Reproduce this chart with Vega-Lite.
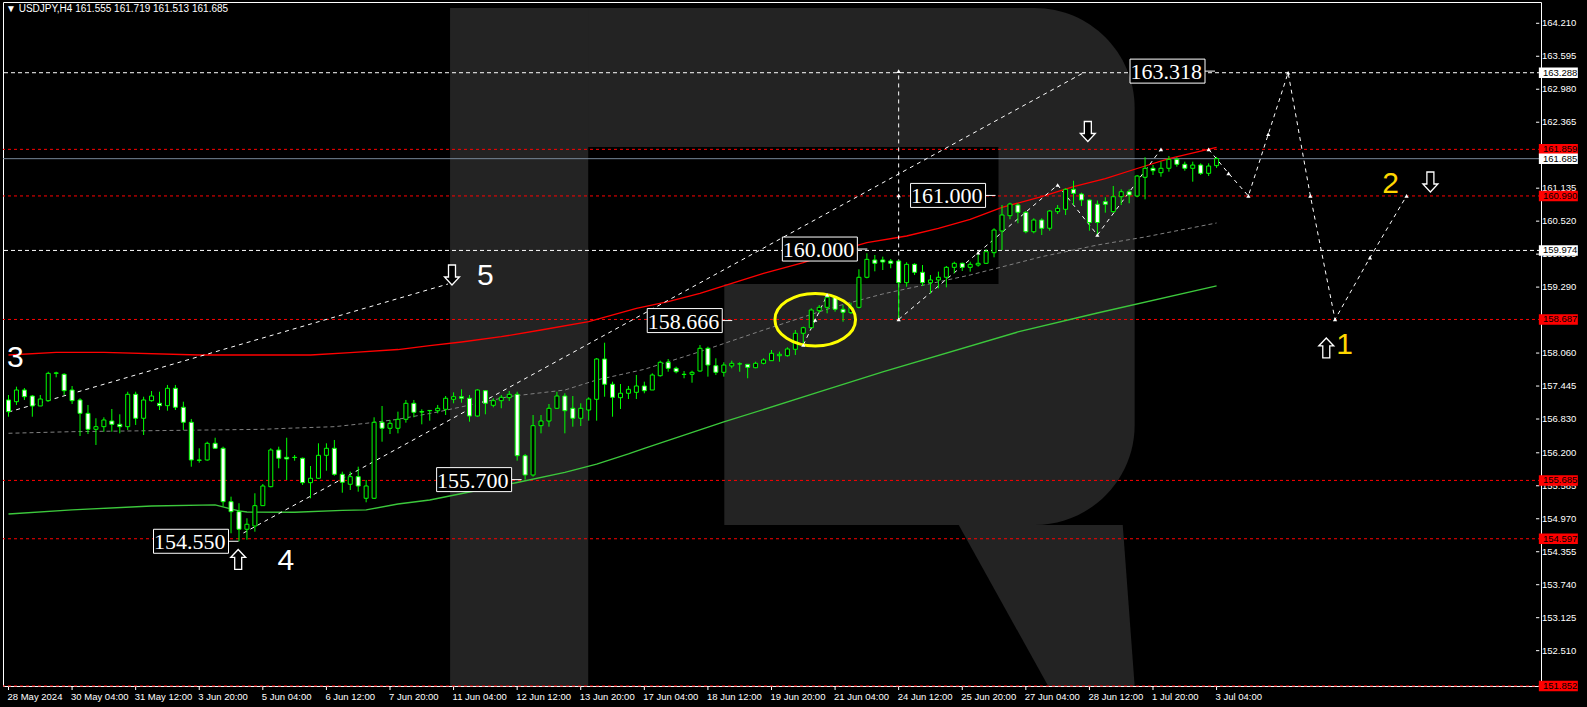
{
  "$schema": "https://vega.github.io/schema/vega-lite/v6.json",
  "width": 1538,
  "height": 684,
  "autosize": {"type": "none"},
  "padding": {"left": 3, "top": 2, "right": 46, "bottom": 21},
  "background": "#000000",
  "title": {"text": "▼ USDJPY,H4  161.555 161.719 161.513 161.685", "anchor": "start", "frame": "group", "orient": "top", "offset": -12, "dx": 3, "color": "#ffffff", "fontSize": 10, "fontWeight": "normal", "font": "Liberation Sans"},
  "config": {
    "view": {"stroke": "#ffffff", "strokeWidth": 1, "fill": "#000000"},
    "font": "Liberation Sans"
  },
  "datasets": {
    "bowl": [{"x1": 55.56, "x2": 141.69, "y1": 164.495, "y2": 154.854}],
    "stem": [{"x1": 55.56, "x2": 72.94, "y1": 164.495, "y2": 151.851}],
    "cut": [{"x1": 72.94, "x2": 124.56, "y1": 161.903, "y2": 159.348}, {"x1": 72.94, "x2": 90.06, "y1": 159.348, "y2": 154.854}],
    "leg": [{"p": 154.854, "xa": 119.56, "xb": 140.19}, {"p": 151.851, "xa": 130.81, "xb": 141.69}],
    "xticks": [
      {"i": 0, "t": "28 May 2024"}, {"i": 8, "t": "30 May 04:00"}, {"i": 16, "t": "31 May 12:00"}, {"i": 24, "t": "3 Jun 20:00"},
      {"i": 32, "t": "5 Jun 04:00"}, {"i": 40, "t": "6 Jun 12:00"}, {"i": 48, "t": "7 Jun 20:00"}, {"i": 56, "t": "11 Jun 04:00"},
      {"i": 64, "t": "12 Jun 12:00"}, {"i": 72, "t": "13 Jun 20:00"}, {"i": 80, "t": "17 Jun 04:00"}, {"i": 88, "t": "18 Jun 12:00"},
      {"i": 96, "t": "19 Jun 20:00"}, {"i": 104, "t": "21 Jun 04:00"}, {"i": 112, "t": "24 Jun 12:00"}, {"i": 120, "t": "25 Jun 20:00"},
      {"i": 128, "t": "27 Jun 04:00"}, {"i": 136, "t": "28 Jun 12:00"}, {"i": 144, "t": "1 Jul 20:00"}, {"i": 152, "t": "3 Jul 04:00"}
    ],
    "yticks": [
      {"p": 164.210}, {"p": 163.595}, {"p": 162.980}, {"p": 162.365}, {"p": 161.135}, {"p": 160.520},
      {"p": 159.905}, {"p": 159.290}, {"p": 158.060}, {"p": 157.445}, {"p": 156.830}, {"p": 156.200},
      {"p": 155.585}, {"p": 154.970}, {"p": 154.355}, {"p": 153.740}, {"p": 153.125}, {"p": 152.510}
    ],
    "levels": [
      {"p": 163.288, "k": "w"}, {"p": 161.859, "k": "r"}, {"p": 161.685, "k": "g"},
      {"p": 160.990, "k": "r"}, {"p": 159.974, "k": "w"}, {"p": 158.687, "k": "r"},
      {"p": 155.685, "k": "r"}, {"p": 154.597, "k": "r"}, {"p": 151.852, "k": "r"}
    ],
    "lines": [
      {"s": "ma_hi", "i": 0, "p": 158.024}, {"s": "ma_hi", "i": 6, "p": 158.074}, {"s": "ma_hi", "i": 12, "p": 158.074}, {"s": "ma_hi", "i": 24, "p": 158.024}, {"s": "ma_hi", "i": 38, "p": 158.024}, {"s": "ma_hi", "i": 43, "p": 158.067}, {"s": "ma_hi", "i": 49, "p": 158.126}, {"s": "ma_hi", "i": 53, "p": 158.197}, {"s": "ma_hi", "i": 57, "p": 158.266}, {"s": "ma_hi", "i": 62, "p": 158.365}, {"s": "ma_hi", "i": 67, "p": 158.490}, {"s": "ma_hi", "i": 73, "p": 158.647}, {"s": "ma_hi", "i": 79, "p": 158.895}, {"s": "ma_hi", "i": 83, "p": 159.018}, {"s": "ma_hi", "i": 87, "p": 159.175}, {"s": "ma_hi", "i": 91, "p": 159.361}, {"s": "ma_hi", "i": 95, "p": 159.548}, {"s": "ma_hi", "i": 100, "p": 159.745}, {"s": "ma_hi", "i": 104, "p": 159.950}, {"s": "ma_hi", "i": 108, "p": 160.118}, {"s": "ma_hi", "i": 113, "p": 160.243}, {"s": "ma_hi", "i": 117, "p": 160.387}, {"s": "ma_hi", "i": 121, "p": 160.554}, {"s": "ma_hi", "i": 125, "p": 160.778}, {"s": "ma_hi", "i": 130, "p": 160.976}, {"s": "ma_hi", "i": 134, "p": 161.162}, {"s": "ma_hi", "i": 138, "p": 161.315}, {"s": "ma_hi", "i": 142, "p": 161.502}, {"s": "ma_hi", "i": 146, "p": 161.688}, {"s": "ma_hi", "i": 152, "p": 161.897},
      {"s": "ma_lo", "i": 0, "p": 155.059}, {"s": "ma_lo", "i": 8, "p": 155.134}, {"s": "ma_lo", "i": 18, "p": 155.208}, {"s": "ma_lo", "i": 26, "p": 155.227}, {"s": "ma_lo", "i": 29, "p": 155.115}, {"s": "ma_lo", "i": 30, "p": 155.096}, {"s": "ma_lo", "i": 36, "p": 155.091}, {"s": "ma_lo", "i": 42, "p": 155.128}, {"s": "ma_lo", "i": 45, "p": 155.134}, {"s": "ma_lo", "i": 49, "p": 155.245}, {"s": "ma_lo", "i": 53, "p": 155.320}, {"s": "ma_lo", "i": 58, "p": 155.469}, {"s": "ma_lo", "i": 64, "p": 155.646}, {"s": "ma_lo", "i": 70, "p": 155.833}, {"s": "ma_lo", "i": 74, "p": 155.991}, {"s": "ma_lo", "i": 78, "p": 156.178}, {"s": "ma_lo", "i": 80, "p": 156.284}, {"s": "ma_lo", "i": 90, "p": 156.775}, {"s": "ma_lo", "i": 102, "p": 157.334}, {"s": "ma_lo", "i": 110, "p": 157.707}, {"s": "ma_lo", "i": 127, "p": 158.453}, {"s": "ma_lo", "i": 137, "p": 158.807}, {"s": "ma_lo", "i": 152, "p": 159.311},
      {"s": "ma_mid", "i": 0, "p": 156.564}, {"s": "ma_mid", "i": 8, "p": 156.594}, {"s": "ma_mid", "i": 32, "p": 156.638}, {"s": "ma_mid", "i": 35, "p": 156.657}, {"s": "ma_mid", "i": 41, "p": 156.687}, {"s": "ma_mid", "i": 45, "p": 156.750}, {"s": "ma_mid", "i": 49, "p": 156.825}, {"s": "ma_mid", "i": 54, "p": 156.961}, {"s": "ma_mid", "i": 63, "p": 157.250}, {"s": "ma_mid", "i": 70, "p": 157.371}, {"s": "ma_mid", "i": 74, "p": 157.558}, {"s": "ma_mid", "i": 80, "p": 157.757}, {"s": "ma_mid", "i": 87, "p": 158.086}, {"s": "ma_mid", "i": 95, "p": 158.490}, {"s": "ma_mid", "i": 104, "p": 158.925}, {"s": "ma_mid", "i": 110, "p": 159.162}, {"s": "ma_mid", "i": 121, "p": 159.516}, {"s": "ma_mid", "i": 130, "p": 159.857}, {"s": "ma_mid", "i": 137, "p": 160.075}, {"s": "ma_mid", "i": 143, "p": 160.225}, {"s": "ma_mid", "i": 152, "p": 160.486},
      {"s": "ch1", "i": 0, "p": 156.960}, {"s": "ch1", "i": 55.3, "p": 159.348},
      {"s": "ch2", "i": 29.56, "p": 154.705}, {"s": "ch2", "i": 135.2, "p": 163.283},
      {"s": "small", "i": 100, "p": 158.210}, {"s": "small", "i": 103, "p": 159.143},
      {"s": "vert", "i": 112, "p": 158.687}, {"s": "vert", "i": 112, "p": 163.318},
      {"s": "wave", "i": 112, "p": 158.687}, {"s": "wave", "i": 122, "p": 159.932}, {"s": "wave", "i": 132, "p": 161.194}, {"s": "wave", "i": 137, "p": 160.262}, {"s": "wave", "i": 145, "p": 161.860},
      {"s": "path", "i": 151, "p": 161.859}, {"s": "path", "i": 153.5, "p": 161.412}, {"s": "path", "i": 156, "p": 160.990}, {"s": "path", "i": 158.5, "p": 162.140}, {"s": "path", "i": 161, "p": 163.288}, {"s": "path", "i": 163.8, "p": 160.990}, {"s": "path", "i": 166.9, "p": 158.687}, {"s": "path", "i": 171.3, "p": 159.840}, {"s": "path", "i": 175.9, "p": 160.990}
    ],
    "bars": [
      {"i":0,"o":157.185,"h":157.278,"l":156.873,"c":156.967},
      {"i":1,"o":157.153,"h":157.433,"l":157.092,"c":157.371},
      {"i":2,"o":157.371,"h":157.408,"l":157.185,"c":157.246},
      {"i":3,"o":157.259,"h":157.278,"l":156.873,"c":157.073},
      {"i":4,"o":157.073,"h":157.278,"l":157.073,"c":157.203},
      {"i":5,"o":157.172,"h":157.712,"l":157.153,"c":157.682},
      {"i":6,"o":157.682,"h":157.712,"l":157.608,"c":157.690},
      {"i":7,"o":157.664,"h":157.682,"l":157.278,"c":157.358},
      {"i":8,"o":157.371,"h":157.446,"l":157.110,"c":157.172},
      {"i":9,"o":157.185,"h":157.217,"l":156.513,"c":156.936},
      {"i":10,"o":156.936,"h":157.092,"l":156.550,"c":156.638},
      {"i":11,"o":156.638,"h":156.844,"l":156.346,"c":156.687},
      {"i":12,"o":156.687,"h":156.862,"l":156.593,"c":156.812},
      {"i":13,"o":156.793,"h":157.017,"l":156.593,"c":156.731},
      {"i":14,"o":156.731,"h":156.918,"l":156.563,"c":156.687},
      {"i":15,"o":156.687,"h":157.339,"l":156.625,"c":157.291},
      {"i":16,"o":157.291,"h":157.339,"l":156.719,"c":156.844},
      {"i":17,"o":156.844,"h":157.246,"l":156.532,"c":157.185},
      {"i":18,"o":157.172,"h":157.352,"l":157.153,"c":157.259},
      {"i":19,"o":157.123,"h":157.339,"l":156.998,"c":157.079},
      {"i":20,"o":157.079,"h":157.465,"l":156.985,"c":157.403},
      {"i":21,"o":157.403,"h":157.465,"l":156.998,"c":157.049},
      {"i":22,"o":157.049,"h":157.153,"l":156.625,"c":156.769},
      {"i":23,"o":156.769,"h":156.831,"l":155.941,"c":156.066},
      {"i":24,"o":156.066,"h":156.284,"l":156.016,"c":156.060},
      {"i":25,"o":156.066,"h":156.407,"l":156.053,"c":156.377},
      {"i":26,"o":156.377,"h":156.481,"l":156.271,"c":156.284},
      {"i":27,"o":156.284,"h":156.314,"l":155.195,"c":155.288},
      {"i":28,"o":155.288,"h":155.382,"l":154.699,"c":155.102},
      {"i":29,"o":155.102,"h":155.259,"l":154.550,"c":154.774},
      {"i":30,"o":154.774,"h":154.979,"l":154.580,"c":154.867},
      {"i":31,"o":154.835,"h":155.445,"l":154.729,"c":155.214},
      {"i":32,"o":155.214,"h":155.618,"l":155.214,"c":155.581},
      {"i":33,"o":155.568,"h":156.284,"l":155.557,"c":156.252},
      {"i":34,"o":156.252,"h":156.314,"l":155.911,"c":156.098},
      {"i":35,"o":156.116,"h":156.481,"l":155.693,"c":156.085},
      {"i":36,"o":156.116,"h":156.159,"l":156.053,"c":156.112},
      {"i":37,"o":156.098,"h":156.110,"l":155.600,"c":155.643},
      {"i":38,"o":155.643,"h":155.954,"l":155.352,"c":155.725},
      {"i":39,"o":155.725,"h":156.377,"l":155.712,"c":156.153},
      {"i":40,"o":156.153,"h":156.377,"l":155.866,"c":156.284},
      {"i":41,"o":156.284,"h":156.439,"l":155.773,"c":155.799},
      {"i":42,"o":155.799,"h":155.848,"l":155.456,"c":155.650},
      {"i":43,"o":155.613,"h":155.848,"l":155.506,"c":155.755},
      {"i":44,"o":155.755,"h":155.941,"l":155.475,"c":155.581},
      {"i":45,"o":155.352,"h":155.693,"l":155.277,"c":155.581},
      {"i":46,"o":155.352,"h":156.862,"l":155.339,"c":156.769},
      {"i":47,"o":156.769,"h":157.073,"l":156.407,"c":156.657},
      {"i":48,"o":156.657,"h":156.812,"l":156.550,"c":156.750},
      {"i":49,"o":156.657,"h":156.967,"l":156.563,"c":156.825},
      {"i":50,"o":156.825,"h":157.185,"l":156.762,"c":157.123},
      {"i":51,"o":157.123,"h":157.185,"l":156.862,"c":156.955},
      {"i":52,"o":156.967,"h":157.011,"l":156.731,"c":156.960},
      {"i":53,"o":156.985,"h":156.998,"l":156.799,"c":156.990},
      {"i":54,"o":156.985,"h":157.092,"l":156.936,"c":157.030},
      {"i":55,"o":157.011,"h":157.259,"l":156.905,"c":157.217},
      {"i":56,"o":157.198,"h":157.328,"l":157.123,"c":157.246},
      {"i":57,"o":157.246,"h":157.384,"l":157.134,"c":157.217},
      {"i":58,"o":157.217,"h":157.278,"l":156.780,"c":156.886},
      {"i":59,"o":156.886,"h":157.384,"l":156.873,"c":157.371},
      {"i":60,"o":157.358,"h":157.371,"l":156.918,"c":157.123},
      {"i":61,"o":157.086,"h":157.217,"l":157.049,"c":157.172},
      {"i":62,"o":157.172,"h":157.278,"l":157.030,"c":157.235},
      {"i":63,"o":157.228,"h":157.352,"l":157.166,"c":157.291},
      {"i":64,"o":157.291,"h":157.339,"l":156.053,"c":156.146},
      {"i":65,"o":156.146,"h":156.178,"l":155.700,"c":155.786},
      {"i":66,"o":155.786,"h":156.905,"l":155.755,"c":156.706},
      {"i":67,"o":156.706,"h":156.905,"l":156.563,"c":156.793},
      {"i":68,"o":156.793,"h":157.110,"l":156.687,"c":157.030},
      {"i":69,"o":157.030,"h":157.339,"l":157.017,"c":157.259},
      {"i":70,"o":157.259,"h":157.310,"l":156.563,"c":156.985},
      {"i":71,"o":157.030,"h":157.259,"l":156.687,"c":156.844},
      {"i":72,"o":156.844,"h":157.123,"l":156.700,"c":157.030},
      {"i":73,"o":156.998,"h":157.235,"l":156.799,"c":157.203},
      {"i":74,"o":157.198,"h":157.968,"l":156.799,"c":157.949},
      {"i":75,"o":157.949,"h":158.253,"l":157.246,"c":157.478},
      {"i":76,"o":157.478,"h":157.526,"l":156.873,"c":157.235},
      {"i":77,"o":157.228,"h":157.483,"l":157.017,"c":157.310},
      {"i":78,"o":157.310,"h":157.446,"l":157.203,"c":157.384},
      {"i":79,"o":157.328,"h":157.651,"l":157.203,"c":157.446},
      {"i":80,"o":157.446,"h":157.526,"l":157.310,"c":157.358},
      {"i":81,"o":157.371,"h":157.682,"l":157.371,"c":157.651},
      {"i":82,"o":157.638,"h":157.918,"l":157.620,"c":157.888},
      {"i":83,"o":157.888,"h":157.949,"l":157.712,"c":157.776},
      {"i":84,"o":157.776,"h":157.806,"l":157.682,"c":157.712},
      {"i":85,"o":157.664,"h":157.725,"l":157.590,"c":157.660},
      {"i":86,"o":157.664,"h":157.731,"l":157.507,"c":157.701},
      {"i":87,"o":157.725,"h":158.210,"l":157.712,"c":158.149},
      {"i":88,"o":158.149,"h":158.179,"l":157.620,"c":157.837},
      {"i":89,"o":157.824,"h":157.962,"l":157.651,"c":157.701},
      {"i":90,"o":157.701,"h":157.888,"l":157.620,"c":157.837},
      {"i":91,"o":157.819,"h":157.918,"l":157.776,"c":157.869},
      {"i":92,"o":157.856,"h":157.888,"l":157.712,"c":157.860},
      {"i":93,"o":157.850,"h":157.855,"l":157.590,"c":157.794},
      {"i":94,"o":157.787,"h":157.899,"l":157.776,"c":157.869},
      {"i":95,"o":157.869,"h":157.962,"l":157.850,"c":157.931},
      {"i":96,"o":157.918,"h":158.117,"l":157.912,"c":158.056},
      {"i":97,"o":158.011,"h":158.086,"l":157.899,"c":158.037},
      {"i":98,"o":158.011,"h":158.167,"l":157.993,"c":158.136},
      {"i":99,"o":158.130,"h":158.490,"l":158.024,"c":158.429},
      {"i":100,"o":158.429,"h":158.552,"l":158.242,"c":158.533},
      {"i":101,"o":158.533,"h":158.894,"l":158.521,"c":158.863},
      {"i":102,"o":158.850,"h":158.956,"l":158.801,"c":158.913},
      {"i":103,"o":158.913,"h":159.143,"l":158.801,"c":159.100},
      {"i":104,"o":159.100,"h":159.112,"l":158.832,"c":158.876},
      {"i":105,"o":158.876,"h":158.956,"l":158.645,"c":158.820},
      {"i":106,"o":158.813,"h":158.999,"l":158.789,"c":158.913},
      {"i":107,"o":158.913,"h":159.622,"l":158.894,"c":159.473},
      {"i":108,"o":159.473,"h":159.920,"l":159.454,"c":159.808},
      {"i":109,"o":159.796,"h":159.889,"l":159.584,"c":159.734},
      {"i":110,"o":159.796,"h":159.858,"l":159.609,"c":159.758},
      {"i":111,"o":159.777,"h":159.814,"l":159.641,"c":159.734},
      {"i":112,"o":159.777,"h":159.783,"l":158.687,"c":159.372},
      {"i":113,"o":159.372,"h":159.753,"l":159.297,"c":159.715},
      {"i":114,"o":159.715,"h":159.734,"l":159.516,"c":159.566},
      {"i":115,"o":159.566,"h":159.702,"l":159.311,"c":159.372},
      {"i":116,"o":159.372,"h":159.516,"l":159.174,"c":159.423},
      {"i":117,"o":159.423,"h":159.578,"l":159.268,"c":159.473},
      {"i":118,"o":159.473,"h":159.684,"l":159.286,"c":159.659},
      {"i":119,"o":159.659,"h":159.764,"l":159.547,"c":159.734},
      {"i":120,"o":159.734,"h":159.746,"l":159.591,"c":159.659},
      {"i":121,"o":159.659,"h":159.764,"l":159.578,"c":159.715},
      {"i":122,"o":159.702,"h":159.907,"l":159.671,"c":159.734},
      {"i":123,"o":159.734,"h":159.995,"l":159.721,"c":159.951},
      {"i":124,"o":159.932,"h":160.387,"l":159.846,"c":160.355},
      {"i":125,"o":160.337,"h":160.821,"l":159.982,"c":160.635},
      {"i":126,"o":160.622,"h":160.864,"l":160.555,"c":160.840},
      {"i":127,"o":160.821,"h":160.853,"l":160.480,"c":160.685},
      {"i":128,"o":160.685,"h":160.709,"l":160.293,"c":160.323},
      {"i":129,"o":160.323,"h":160.573,"l":160.293,"c":160.541},
      {"i":130,"o":160.541,"h":160.573,"l":160.262,"c":160.387},
      {"i":131,"o":160.387,"h":160.728,"l":160.342,"c":160.709},
      {"i":132,"o":160.697,"h":160.821,"l":160.653,"c":160.759},
      {"i":133,"o":160.741,"h":161.132,"l":160.635,"c":161.114},
      {"i":134,"o":161.114,"h":161.274,"l":160.821,"c":161.039},
      {"i":135,"o":161.026,"h":161.051,"l":160.803,"c":160.914},
      {"i":136,"o":160.914,"h":160.924,"l":160.342,"c":160.495},
      {"i":137,"o":160.836,"h":160.905,"l":160.262,"c":160.495},
      {"i":138,"o":160.883,"h":160.965,"l":160.678,"c":160.834},
      {"i":139,"o":160.697,"h":161.176,"l":160.678,"c":160.976},
      {"i":140,"o":160.976,"h":161.114,"l":160.821,"c":161.069},
      {"i":141,"o":161.069,"h":161.114,"l":160.853,"c":161.008},
      {"i":142,"o":160.989,"h":161.381,"l":160.965,"c":161.362},
      {"i":143,"o":161.338,"h":161.711,"l":160.927,"c":161.506},
      {"i":144,"o":161.506,"h":161.567,"l":161.381,"c":161.461},
      {"i":145,"o":161.424,"h":161.629,"l":161.349,"c":161.506},
      {"i":146,"o":161.506,"h":161.735,"l":161.442,"c":161.673},
      {"i":147,"o":161.673,"h":161.711,"l":161.535,"c":161.580},
      {"i":148,"o":161.580,"h":161.629,"l":161.461,"c":161.506},
      {"i":149,"o":161.506,"h":161.629,"l":161.256,"c":161.567},
      {"i":150,"o":161.567,"h":161.598,"l":161.381,"c":161.412},
      {"i":151,"o":161.412,"h":161.598,"l":161.362,"c":161.548},
      {"i":152,"o":161.555,"h":161.719,"l":161.513,"c":161.685}
    ],
    "ring": [{"i": 101.5, "p": 158.682}],
    "dots": [
      {"i": 112, "p": 163.318}, {"i": 112, "p": 161.0}, {"i": 112, "p": 158.687},
      {"i": 100, "p": 158.210}, {"i": 101.5, "p": 158.677}, {"i": 103, "p": 159.143},
      {"i": 122, "p": 159.932}, {"i": 132, "p": 161.194}, {"i": 137, "p": 160.262},
      {"i": 145, "p": 161.860}, {"i": 151, "p": 161.859}, {"i": 153.5, "p": 161.412},
      {"i": 156, "p": 160.990}, {"i": 158.5, "p": 162.140}, {"i": 161, "p": 163.288},
      {"i": 163.8, "p": 160.990}, {"i": 166.9, "p": 158.687}, {"i": 171.3, "p": 159.840},
      {"i": 175.9, "p": 160.990}
    ],
    "tags": [
      {"i": 28.94, "p": 154.550}, {"i": 64.56, "p": 155.700}, {"i": 91.06, "p": 158.666},
      {"i": 108.06, "p": 160.000}, {"i": 124.19, "p": 161.000}, {"i": 151.8, "p": 163.318}
    ],
    "waveLabels": [
      {"i": 0.875, "p": 157.977, "t": "3", "c": "w"}, {"i": 34.9, "p": 154.183, "t": "4", "c": "w"},
      {"i": 60, "p": 159.497, "t": "5", "c": "w"}, {"i": 168.1, "p": 158.210, "t": "1", "c": "y"},
      {"i": 173.9, "p": 161.213, "t": "2", "c": "y"}
    ],
    "arrows": [
      {"i": 55.8, "p": 159.516, "d": "down"}, {"i": 28.9, "p": 154.211, "d": "up"},
      {"i": 135.8, "p": 162.192, "d": "down"}, {"i": 165.8, "p": 158.155, "d": "up"},
      {"i": 178.9, "p": 161.250, "d": "down"}
    ]
  },
  "layer": [
    {
      "data": {"name": "bowl"},
      "mark": {"type": "rect", "fill": "#232323", "cornerRadiusTopRight": 100, "cornerRadiusBottomRight": 100},
      "encoding": {
        "x": {"field": "x1", "type": "quantitative", "scale": {"domain": [-0.0625, 192.1875], "nice": false, "zero": false}, "axis": null},
        "x2": {"field": "x2"},
        "y": {"field": "y1", "type": "quantitative", "scale": {"domain": [151.851, 164.607], "nice": false, "zero": false}, "axis": null},
        "y2": {"field": "y2"}
      }
    },
    {
      "data": {"name": "stem"},
      "mark": {"type": "rect", "fill": "#232323"},
      "encoding": {"x": {"field": "x1", "type": "quantitative", "axis": null}, "x2": {"field": "x2"}, "y": {"field": "y1", "type": "quantitative", "axis": null}, "y2": {"field": "y2"}}
    },
    {
      "data": {"name": "cut"},
      "mark": {"type": "rect", "fill": "#000000"},
      "encoding": {"x": {"field": "x1", "type": "quantitative", "axis": null}, "x2": {"field": "x2"}, "y": {"field": "y1", "type": "quantitative", "axis": null}, "y2": {"field": "y2"}}
    },
    {
      "data": {"name": "leg"},
      "mark": {"type": "area", "orient": "horizontal", "fill": "#232323"},
      "encoding": {"y": {"field": "p", "type": "quantitative", "axis": null}, "x": {"field": "xa", "type": "quantitative", "axis": null}, "x2": {"field": "xb"}}
    },
    {
      "data": {"name": "xticks"},
      "mark": {"type": "rule", "color": "#ffffff", "strokeWidth": 1},
      "encoding": {"x": {"field": "i", "type": "quantitative", "axis": null}, "y": {"datum": 151.851, "axis": null}, "y2": {"datum": 151.776}}
    },
    {
      "data": {"name": "xticks"},
      "mark": {"type": "text", "align": "left", "baseline": "top", "dx": -1, "dy": 6, "fontSize": 9.5, "color": "#ffffff"},
      "encoding": {"x": {"field": "i", "type": "quantitative", "axis": null}, "y": {"datum": 151.851, "axis": null}, "text": {"field": "t"}}
    },
    {
      "data": {"name": "yticks"},
      "mark": {"type": "rule", "color": "#ffffff", "strokeWidth": 1},
      "encoding": {"x": {"datum": 192.19, "axis": null}, "x2": {"datum": 192.6}, "y": {"field": "p", "type": "quantitative", "axis": null}}
    },
    {
      "data": {"name": "yticks"},
      "mark": {"type": "text", "align": "left", "baseline": "middle", "fontSize": 9.5, "color": "#ffffff"},
      "encoding": {"x": {"datum": 192.94, "axis": null}, "y": {"field": "p", "type": "quantitative", "axis": null}, "text": {"field": "p", "format": ".3f"}}
    },
    {
      "data": {"name": "levels"},
      "transform": [{"filter": "datum.k === 'r'"}],
      "mark": {"type": "rule", "strokeWidth": 1, "color": "#ff0000", "strokeDash": [3, 3]},
      "encoding": {"y": {"field": "p", "type": "quantitative", "axis": null}}
    },
    {
      "data": {"name": "levels"},
      "transform": [{"filter": "datum.k === 'w'"}],
      "mark": {"type": "rule", "strokeWidth": 1, "color": "#ffffff", "strokeDash": [4, 3]},
      "encoding": {"y": {"field": "p", "type": "quantitative", "axis": null}}
    },
    {
      "data": {"name": "levels"},
      "transform": [{"filter": "datum.k === 'g'"}],
      "mark": {"type": "rule", "strokeWidth": 1, "color": "#778899"},
      "encoding": {"y": {"field": "p", "type": "quantitative", "axis": null}}
    },
    {
      "data": {"name": "lines"},
      "transform": [{"filter": "datum.s === 'ma_hi'"}],
      "mark": {"type": "line", "color": "#ff0000", "strokeWidth": 1.3},
      "encoding": {"x": {"field": "i", "type": "quantitative", "axis": null}, "y": {"field": "p", "type": "quantitative", "axis": null}}
    },
    {
      "data": {"name": "lines"},
      "transform": [{"filter": "datum.s === 'ma_lo'"}],
      "mark": {"type": "line", "color": "#3cc83c", "strokeWidth": 1.3},
      "encoding": {"x": {"field": "i", "type": "quantitative", "axis": null}, "y": {"field": "p", "type": "quantitative", "axis": null}}
    },
    {
      "data": {"name": "lines"},
      "transform": [{"filter": "datum.s === 'ma_mid'"}],
      "mark": {"type": "line", "color": "#808080", "strokeWidth": 1, "strokeDash": [4, 3]},
      "encoding": {"x": {"field": "i", "type": "quantitative", "axis": null}, "y": {"field": "p", "type": "quantitative", "axis": null}}
    },
    {
      "data": {"name": "lines"},
      "transform": [{"filter": "datum.s !== 'ma_hi' && datum.s !== 'ma_lo' && datum.s !== 'ma_mid'"}],
      "mark": {"type": "line", "color": "#ffffff", "strokeWidth": 1, "strokeDash": [4, 4]},
      "encoding": {"x": {"field": "i", "type": "quantitative", "axis": null}, "y": {"field": "p", "type": "quantitative", "axis": null}, "detail": {"field": "s"}}
    },
    {
      "data": {"name": "bars"},
      "mark": {"type": "rule", "color": "#00ff00", "strokeWidth": 1},
      "encoding": {"x": {"field": "i", "type": "quantitative", "axis": null}, "y": {"field": "l", "type": "quantitative", "axis": null}, "y2": {"field": "h"}}
    },
    {
      "data": {"name": "bars"},
      "mark": {"type": "bar", "size": 4, "stroke": "#00ff00", "strokeWidth": 1},
      "encoding": {
        "x": {"field": "i", "type": "quantitative", "axis": null},
        "y": {"field": "o", "type": "quantitative", "axis": null},
        "y2": {"field": "c"},
        "fill": {"condition": {"test": "datum.c < datum.o", "value": "#ffffff"}, "value": "#000000"}
      }
    },
    {
      "data": {"name": "ring"},
      "mark": {"type": "point", "shape": "M-1,0A1,0.653,0,1,1,1,0A1,0.653,0,1,1,-1,0Z", "size": 6497, "filled": false, "stroke": "#ffff00", "strokeWidth": 3, "opacity": 1},
      "encoding": {"x": {"field": "i", "type": "quantitative", "axis": null}, "y": {"field": "p", "type": "quantitative", "axis": null}}
    },
    {
      "data": {"name": "dots"},
      "mark": {"type": "point", "shape": "triangle-up", "size": 18, "filled": true, "fill": "#ffffff", "stroke": null, "opacity": 1},
      "encoding": {"x": {"field": "i", "type": "quantitative", "axis": null}, "y": {"field": "p", "type": "quantitative", "axis": null}}
    },
    {
      "data": {"name": "tags"},
      "mark": {"type": "point", "shape": "M-8.5,-1.2H-1V1.2H-8.5ZM-1,0H0", "size": 400, "filled": true, "fill": "#000000", "stroke": "#ffffff", "strokeWidth": 1, "opacity": 1},
      "encoding": {"x": {"field": "i", "type": "quantitative", "axis": null}, "y": {"field": "p", "type": "quantitative", "axis": null}}
    },
    {
      "data": {"name": "tags"},
      "mark": {"type": "text", "align": "right", "baseline": "middle", "dx": -13, "dy": 1, "fontSize": 22, "font": "Liberation Sans Narrow", "color": "#ffffff"},
      "encoding": {"x": {"field": "i", "type": "quantitative", "axis": null}, "y": {"field": "p", "type": "quantitative", "axis": null}, "text": {"field": "p", "format": ".3f"}}
    },
    {
      "data": {"name": "waveLabels"},
      "mark": {"type": "text", "align": "center", "baseline": "middle", "fontSize": 30, "font": "Liberation Sans"},
      "encoding": {
        "x": {"field": "i", "type": "quantitative", "axis": null}, "y": {"field": "p", "type": "quantitative", "axis": null},
        "text": {"field": "t"},
        "color": {"condition": {"test": "datum.c === 'y'", "value": "#ffd700"}, "value": "#ffffff"}
      }
    },
    {
      "data": {"name": "arrows"},
      "transform": [{"filter": "datum.d === 'down'"}],
      "mark": {"type": "point", "shape": "M-0.35,-1H0.35V0.2H0.75L0,1L-0.75,0.2H-0.35Z", "size": 400, "filled": true, "fill": "#000000", "stroke": "#ffffff", "strokeWidth": 1.3, "opacity": 1},
      "encoding": {"x": {"field": "i", "type": "quantitative", "axis": null}, "y": {"field": "p", "type": "quantitative", "axis": null}}
    },
    {
      "data": {"name": "arrows"},
      "transform": [{"filter": "datum.d === 'up'"}],
      "mark": {"type": "point", "shape": "M-0.35,1H0.35V-0.2H0.75L0,-1L-0.75,-0.2H-0.35Z", "size": 400, "filled": true, "fill": "#000000", "stroke": "#ffffff", "strokeWidth": 1.3, "opacity": 1},
      "encoding": {"x": {"field": "i", "type": "quantitative", "axis": null}, "y": {"field": "p", "type": "quantitative", "axis": null}}
    },
    {
      "data": {"name": "levels"},
      "mark": {"type": "point", "shape": "M-1,-0.27H1V0.27H-1Z", "size": 1521, "filled": true, "stroke": null, "opacity": 1},
      "encoding": {
        "x": {"datum": 195.0, "axis": null},
        "y": {"field": "p", "type": "quantitative", "axis": null},
        "fill": {"condition": {"test": "datum.k === 'r'", "value": "#ff0000"}, "value": "#ffffff"}
      }
    },
    {
      "data": {"name": "levels"},
      "mark": {"type": "text", "align": "left", "baseline": "middle", "fontSize": 9.5, "color": "#000000"},
      "encoding": {"x": {"datum": 193.06, "axis": null}, "y": {"field": "p", "type": "quantitative", "axis": null}, "text": {"field": "p", "format": ".3f"}}
    }
  ]
}
